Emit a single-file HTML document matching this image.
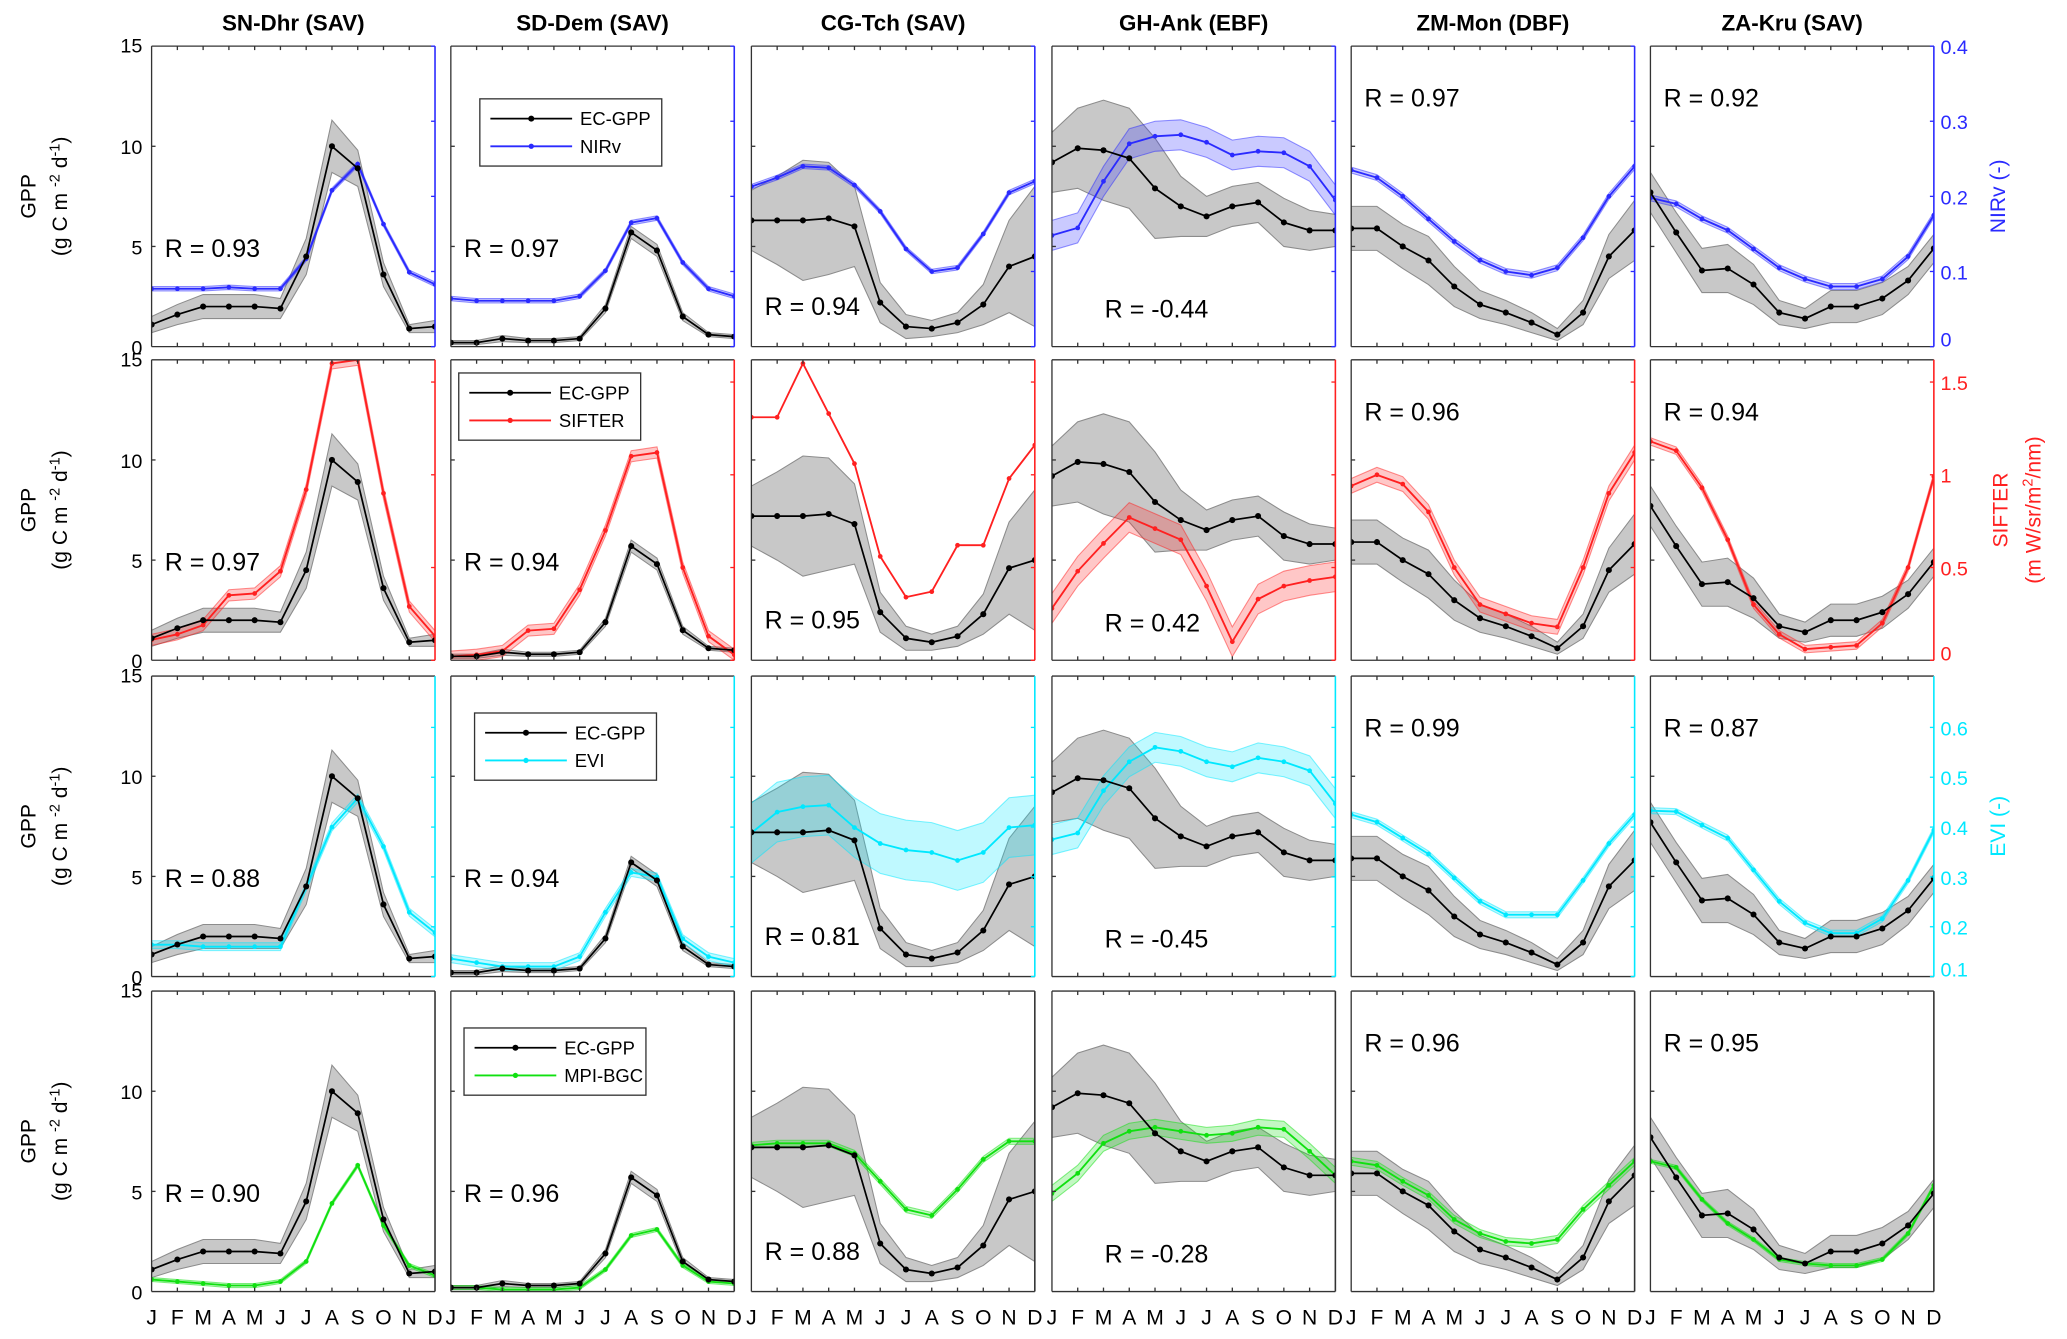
<!DOCTYPE html>
<html><head><meta charset="utf-8"><style>
html,body{margin:0;padding:0;background:#fff}
svg{display:block}
text{font-family:"Liberation Sans",Arial,sans-serif}
</style></head><body>
<svg id="chart" width="2067" height="1339" viewBox="0 0 1568 1016" preserveAspectRatio="none" xmlns="http://www.w3.org/2000/svg"></svg>
<script>
const sites = ["SN-Dhr (SAV)","SD-Dem (SAV)","CG-Tch (SAV)","GH-Ank (EBF)","ZM-Mon (DBF)","ZA-Kru (SAV)"];
const months = ["J","F","M","A","M","J","J","A","S","O","N","D"];
const gppTicks = [0,5,10,15];
const ecGpp = [
 [1.1,1.6,2.0,2.0,2.0,1.9,4.5,10.0,8.9,3.6,0.9,1.0],
 [0.2,0.2,0.4,0.3,0.3,0.4,1.9,5.7,4.8,1.5,0.6,0.5],
 [7.2,7.2,7.2,7.3,6.8,2.4,1.1,0.9,1.2,2.3,4.6,5.0],
 [9.2,9.9,9.8,9.4,7.9,7.0,6.5,7.0,7.2,6.2,5.8,5.8],
 [5.9,5.9,5.0,4.3,3.0,2.1,1.7,1.2,0.6,1.7,4.5,5.8],
 [7.7,5.7,3.8,3.9,3.1,1.7,1.4,2.0,2.0,2.4,3.3,4.9]];
const ecGppCgRow1 = [6.3,6.3,6.3,6.4,6.0,2.2,1.0,0.9,1.2,2.1,4.0,4.5];
const ecBand = [
 [0.4,0.5,0.6,0.6,0.6,0.5,0.9,1.3,0.9,0.6,0.2,0.3],
 [0.1,0.1,0.15,0.1,0.1,0.1,0.2,0.3,0.3,0.2,0.1,0.1],
 [1.5,2.2,3.0,2.8,2.0,1.0,0.6,0.4,0.5,1.0,2.3,3.5],
 [1.5,2.0,2.5,2.5,2.5,1.5,1.0,1.0,1.0,1.2,1.0,0.8],
 [1.1,1.1,1.1,1.2,1.0,0.7,0.6,0.5,0.3,0.6,1.1,1.5],
 [1.0,1.0,1.1,1.2,1.0,0.6,0.5,0.8,0.8,0.8,0.7,0.7]];
const nirv = [
 [0.077,0.077,0.077,0.079,0.077,0.077,0.117,0.208,0.243,0.163,0.099,0.083],
 [0.064,0.061,0.061,0.061,0.061,0.067,0.101,0.165,0.171,0.112,0.077,0.067],
 [0.213,0.225,0.24,0.238,0.215,0.18,0.13,0.10,0.105,0.15,0.205,0.22],
 [0.148,0.158,0.22,0.27,0.28,0.282,0.272,0.255,0.26,0.258,0.24,0.195],
 [0.235,0.225,0.2,0.17,0.14,0.115,0.1,0.095,0.105,0.145,0.2,0.24],
 [0.198,0.19,0.17,0.155,0.13,0.105,0.09,0.08,0.08,0.09,0.12,0.175]];
const sifter = [
 [0.11,0.14,0.19,0.35,0.36,0.48,0.92,1.6,1.62,0.9,0.29,0.13],
 [0.02,0.03,0.05,0.16,0.17,0.38,0.7,1.1,1.12,0.5,0.13,0.03],
 [1.31,1.31,1.6,1.33,1.06,0.56,0.34,0.37,0.62,0.62,0.98,1.16],
 [0.28,0.48,0.63,0.77,0.71,0.65,0.4,0.1,0.33,0.4,0.43,0.45],
 [0.94,1.0,0.95,0.8,0.5,0.3,0.25,0.2,0.18,0.5,0.9,1.12],
 [1.18,1.13,0.93,0.65,0.3,0.14,0.06,0.07,0.08,0.2,0.5,0.99]];
const evi = [
 [0.164,0.164,0.16,0.16,0.16,0.16,0.28,0.40,0.458,0.361,0.229,0.188],
 [0.136,0.128,0.12,0.12,0.12,0.14,0.229,0.309,0.30,0.176,0.14,0.128],
 [0.388,0.43,0.441,0.444,0.399,0.367,0.354,0.349,0.333,0.349,0.399,0.404],
 [0.375,0.388,0.473,0.531,0.56,0.552,0.531,0.521,0.539,0.531,0.513,0.447],
 [0.425,0.41,0.378,0.346,0.298,0.251,0.224,0.224,0.224,0.293,0.367,0.425],
 [0.433,0.431,0.404,0.378,0.314,0.251,0.208,0.187,0.187,0.216,0.293,0.394]];
const mpi = [
 [0.6,0.5,0.4,0.3,0.3,0.5,1.5,4.4,6.3,3.3,1.3,0.8],
 [0.2,0.2,0.1,0.1,0.1,0.2,1.1,2.8,3.1,1.3,0.5,0.4],
 [7.3,7.4,7.4,7.4,6.9,5.5,4.1,3.8,5.1,6.6,7.5,7.5],
 [4.9,5.9,7.4,8.0,8.2,8.0,7.8,7.9,8.2,8.1,7.0,5.8],
 [6.5,6.3,5.5,4.8,3.6,2.9,2.5,2.4,2.6,4.1,5.3,6.5],
 [6.5,6.2,4.6,3.4,2.6,1.6,1.4,1.3,1.3,1.6,2.9,5.3]];
const proxyBand = [
 [0.003,0.003,0.003,0.02,0.004,0.004],
 [0.03,0.03,0.0,0.08,0.04,0.02],
 [0.008,0.008,0.06,0.03,0.006,0.006],
 [0.1,0.1,0.15,0.4,0.2,0.1]];
const rValues = [
 ["0.93","0.97","0.94","-0.44","0.97","0.92"],
 ["0.97","0.94","0.95","0.42","0.96","0.94"],
 ["0.88","0.94","0.81","-0.45","0.99","0.87"],
 ["0.90","0.96","0.88","-0.28","0.96","0.95"]];
const proxyNames = ["NIRv","SIFTER","EVI","MPI-BGC"];
const proxyColors = ["#2a2aff","#ff2020","#00e8ff","#10e010"];
const proxyMin = [0,0,0.1,0];
const proxyMax = [0.4,1.62,0.703,15];
const rightTicks = [[0,0.1,0.2,0.3,0.4],[0,0.5,1,1.5],[0.1,0.2,0.3,0.4,0.5,0.6],[]];
const rightTickLabels = [["0","0.1","0.2","0.3","0.4"],["0","0.5","1","1.5"],["0.1","0.2","0.3","0.4","0.5","0.6"],[]];
const legendPos = [[22,40],[6,10],[18,28],[10,28]];

const NS="http://www.w3.org/2000/svg";
const svg=document.getElementById('chart');
const colX=[115,342,570,798,1025,1252], PW=215;
const rowY=[35,273,513,752], PH=228;
function mk(tag,attrs,parent){const e=document.createElementNS(NS,tag);for(const k in attrs)e.setAttribute(k,attrs[k]);(parent||svg).appendChild(e);return e;}
function xs(c,i){return colX[c]+i*PW/11;}
function yg(r,v){return rowY[r]+PH-v/15*PH;}
function yp(r,v){return rowY[r]+PH-(v-proxyMin[r])/(proxyMax[r]-proxyMin[r])*PH;}
function pts(arr){return arr.map(p=>p[0].toFixed(1)+','+p[1].toFixed(1)).join(' ');}

const defs=mk('defs',{});
for(let r=0;r<4;r++)for(let c=0;c<6;c++){const cp=mk('clipPath',{id:'cp'+r+c},defs);mk('rect',{x:colX[c],y:rowY[r],width:PW,height:PH},cp);}

sites.forEach((s,c)=>{
  const t=mk('text',{x:colX[c]+PW/2,y:23,'text-anchor':'middle','font-size':17,'font-weight':'bold'});
  t.textContent=s;
  
  
});

for(let r=0;r<4;r++){
  const g=mk('g',{transform:`translate(27,${rowY[r]+PH/2}) rotate(-90)`});
  
  
  const t1=mk('text',{x:0,y:0,'text-anchor':'middle','font-size':16},g);t1.textContent='GPP';
  const t2=mk('text',{x:0,y:24,'text-anchor':'middle','font-size':16},g);
  t2.innerHTML='(g C m <tspan dy="-6" font-size="11">-2</tspan><tspan dy="6"> d</tspan><tspan dy="-6" font-size="11">-1</tspan><tspan dy="6">)</tspan>';
  gppTicks.forEach(v=>{const t=mk('text',{x:108,y:yg(r,v)+(v===15?5:6),'text-anchor':'end','font-size':15});t.textContent=v;
    
    });
  for(let c=0;c<6;c++){
    const x0=colX[c],y0=rowY[r];
    const pg=mk('g',{});
    
    
    const clip=mk('g',{'clip-path':`url(#cp${r}${c})`},pg);
    const ec=(r===0&&c===2)?ecGppCgRow1:ecGpp[c];
    const up=ec.map((v,i)=>[xs(c,i),yg(r,v+ecBand[c][i])]);
    const lo=ec.map((v,i)=>[xs(c,i),yg(r,Math.max(0,v-ecBand[c][i]))]).reverse();
    const band=mk('polygon',{points:pts(up.concat(lo)),fill:'#c8c8c8',stroke:'#8c8c8c','stroke-width':0.8},clip);
    
    
    const pv=[nirv,sifter,evi,mpi][r][c];const col=proxyColors[r];const hb=proxyBand[r][c];
    const yfun=v=>r===3?yg(r,v):yp(r,v);
    if(hb>0){const pu=pv.map((v,i)=>[xs(c,i),yfun(v+hb)]);const pl=pv.map((v,i)=>[xs(c,i),yfun(v-hb)]).reverse();
      const pb=mk('polygon',{points:pts(pu.concat(pl)),fill:col,'fill-opacity':0.25,stroke:col,'stroke-opacity':0.5,'stroke-width':0.8},clip);
      
      }
    const pl=mk('polyline',{points:pts(pv.map((v,i)=>[xs(c,i),yfun(v)])),fill:'none',stroke:col,'stroke-width':1.4},clip);
    
    
    pv.forEach((v,i)=>{const d=mk('circle',{cx:xs(c,i),cy:yfun(v),r:1.8,fill:col},clip);
      
      });
    const el=mk('polyline',{points:pts(ec.map((v,i)=>[xs(c,i),yg(r,v)])),fill:'none',stroke:'#000','stroke-width':1.3},clip);
    
    
    ec.forEach((v,i)=>{const d=mk('circle',{cx:xs(c,i),cy:yg(r,v),r:2.3,fill:'#000'},clip);
      
      });
    mk('line',{x1:x0,y1:y0,x2:x0+PW,y2:y0,stroke:'#333','stroke-width':1},pg);
    mk('line',{x1:x0,y1:y0+PH,x2:x0+PW,y2:y0+PH,stroke:'#333','stroke-width':1},pg);
    mk('line',{x1:x0,y1:y0,x2:x0,y2:y0+PH,stroke:'#333','stroke-width':1},pg);
    mk('line',{x1:x0+PW,y1:y0,x2:x0+PW,y2:y0+PH,stroke:r<3?col:'#333','stroke-width':1.2},pg);
    for(let i=1;i<11;i++){mk('line',{x1:xs(c,i),y1:y0+PH,x2:xs(c,i),y2:y0+PH-3,stroke:'#333'},pg);mk('line',{x1:xs(c,i),y1:y0,x2:xs(c,i),y2:y0+3,stroke:'#333'},pg);}
    [5,10].forEach(v=>{mk('line',{x1:x0,y1:yg(r,v),x2:x0+3,y2:yg(r,v),stroke:'#333'},pg);});
    if(r<3)rightTicks[r].forEach(v=>{mk('line',{x1:x0+PW,y1:yp(r,v),x2:x0+PW-3,y2:yp(r,v),stroke:col},pg);});
    let rx=x0+10,ry;
    if(c<2)ry=yg(r,5)+8;else if(c===2)ry=y0+PH-24;else if(c===3){rx=x0+40;ry=y0+PH-22;}else ry=y0+46;
    const rt=mk('text',{x:rx,y:ry,'font-size':19},pg);rt.textContent='R = '+rValues[r][c];
    
    
    if(r===3){months.forEach((m,i)=>{const t=mk('text',{x:xs(c,i),y:1005,'text-anchor':'middle','font-size':16},pg);t.textContent=m;
      
      });}
    if(c===1){
      const lg=mk('g',{},pg);
      
      
      const lx=x0+legendPos[r][0], ly=y0+legendPos[r][1];
      mk('rect',{x:lx,y:ly,width:138,height:51,fill:'#fff',stroke:'#333'},lg);
      mk('line',{x1:lx+8,y1:ly+15,x2:lx+70,y2:ly+15,stroke:'#000','stroke-width':1.3},lg);
      mk('circle',{cx:lx+39,cy:ly+15,r:2.3,fill:'#000'},lg);
      const a=mk('text',{x:lx+76,y:ly+20,'font-size':14},lg);a.textContent='EC-GPP';
      mk('line',{x1:lx+8,y1:ly+36,x2:lx+70,y2:ly+36,stroke:col,'stroke-width':1.4},lg);
      mk('circle',{cx:lx+39,cy:ly+36,r:2,fill:col},lg);
      const b=mk('text',{x:lx+76,y:ly+41,'font-size':14},lg);b.textContent=proxyNames[r];
    }
    if(c===5&&r<3){
      rightTicks[r].forEach((v,k)=>{const t=mk('text',{x:x0+PW+5,y:yp(r,v)+(v===proxyMin[r]?0:6),'font-size':15,fill:col},pg);t.textContent=rightTickLabels[r][k];
        
        });
    }
  }
}
function rtitle(x,y,txt,col,name){const g=mk('g',{transform:`translate(${x},${y}) rotate(-90)`});
  
  
  const t=mk('text',{x:0,y:0,'text-anchor':'middle','font-size':16,fill:col},g);t.innerHTML=txt;return g;}
rtitle(1521,rowY[0]+PH/2,'NIRv (-)',proxyColors[0],'nirv-axis-title');
rtitle(1523,rowY[1]+PH/2,'SIFTER',proxyColors[1],'sifter-axis-title');
rtitle(1548,rowY[1]+PH/2,'(m W/sr/m<tspan dy="-6" font-size="11">2</tspan><tspan dy="6">/nm)</tspan>',proxyColors[1],'sifter-axis-units');
rtitle(1521,rowY[2]+PH/2,'EVI (-)',proxyColors[2],'evi-axis-title');
</script>
</body></html>
